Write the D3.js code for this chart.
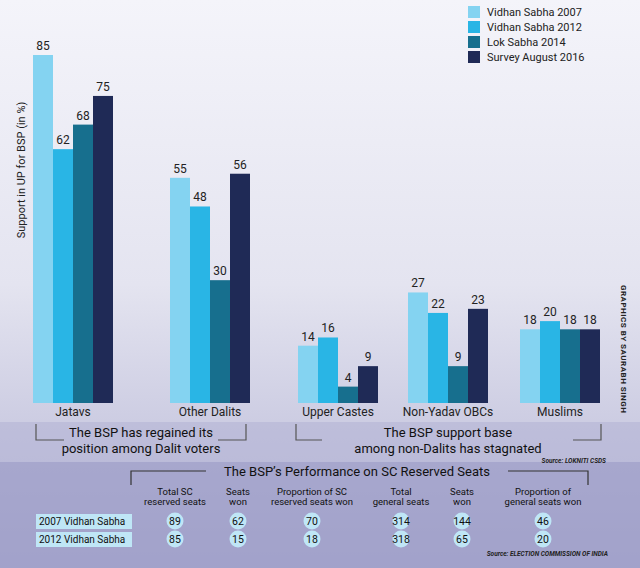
<!DOCTYPE html>
<html>
<head>
<script src="https://d3js.org/d3.v7.min.js"></script>
<style>
  body { margin: 0; }
  text { font-family: "Roboto", "Liberation Sans", sans-serif; }
</style>
</head>
<body>
<div id="chart"></div>
<script>
const categories = ["Jatavs", "Other Dalits", "Upper Castes", "Non-Yadav OBCs", "Muslims"];
const seriesNames = ["Vidhan Sabha 2007", "Vidhan Sabha 2012", "Lok Sabha 2014", "Survey August 2016"];
const values = [
  [85, 62, 68, 75],
  [55, 48, 30, 56],
  [14, 16, 4, 9],
  [27, 22, 9, 23],
  [18, 20, 18, 18]
];
const colors = ["#84d3f1", "#29b5e5", "#176f8e", "#1f2a56"];

const tableCols = [["Total SC", "reserved seats"], ["Seats", "won"], ["Proportion of SC", "reserved seats won"],
                   ["Total", "general seats"], ["Seats", "won"], ["Proportion of", "general seats won"]];
const tableRows = ["2007 Vidhan Sabha", "2012 Vidhan Sabha"];
const tableValues = [[89, 62, 70, 314, 144, 46], [85, 15, 18, 318, 65, 20]];

const W = 640, H = 568;
const svg = d3.select("#chart").append("svg").attr("width", W).attr("height", H);

// background
const defs = svg.append("defs");
const g1 = defs.append("linearGradient").attr("id", "bg").attr("x1", 0).attr("y1", 0).attr("x2", 0).attr("y2", 1);
g1.append("stop").attr("offset", "0").attr("stop-color", "#f4f4fa");
g1.append("stop").attr("offset", "0.5").attr("stop-color", "#e4e4f0");
g1.append("stop").attr("offset", "1").attr("stop-color", "#b4b4d4");
svg.append("rect").attr("width", W).attr("height", H).attr("fill", "url(#bg)");
svg.append("rect").attr("x", 0).attr("y", 422).attr("width", W).attr("height", 40).attr("fill", "#b4b4d6").attr("opacity", 0.6);
svg.append("rect").attr("x", 0).attr("y", 462).attr("width", W).attr("height", 106).attr("fill", "#9a9ac6").attr("opacity", 0.7);

const y = d3.scaleLinear().domain([0, 85]).range([403, 55]);
const x = d3.scaleOrdinal().domain(categories).range([73, 210, 338, 448, 560]);
const xs = d3.scaleBand().domain(d3.range(4)).range([-40, 40]);

const groups = svg.selectAll(".grp").data(categories).join("g")
  .attr("transform", d => `translate(${x(d)},0)`);
groups.selectAll("rect").data((d, i) => values[i]).join("rect")
  .attr("x", (v, j) => xs(j)).attr("width", xs.bandwidth())
  .attr("y", v => y(v)).attr("height", v => y(0) - y(v))
  .attr("fill", (v, j) => colors[j]);
groups.selectAll("text.val").data((d, i) => values[i]).join("text").attr("class", "val")
  .attr("x", (v, j) => xs(j) + xs.bandwidth() / 2).attr("y", v => y(v) - 5)
  .attr("text-anchor", "middle").attr("font-size", 12).attr("fill", "#222").text(v => v);
groups.append("text").attr("y", 416).attr("text-anchor", "middle").attr("font-size", 12)
  .attr("fill", "#222").text(d => d);

svg.append("text").attr("transform", "translate(25,170) rotate(-90)").attr("text-anchor", "middle")
  .attr("font-size", 11).attr("fill", "#222").text("Support in UP for BSP (in %)");

// legend
const lg = svg.append("g").attr("transform", "translate(468,6)");
seriesNames.forEach((s, i) => {
  lg.append("rect").attr("x", 0).attr("y", i * 15).attr("width", 12).attr("height", 12).attr("fill", colors[i]);
  lg.append("text").attr("x", 19).attr("y", i * 15 + 10).attr("font-size", 11).attr("fill", "#222").text(s);
});

svg.append("text").attr("transform", "translate(621,285) rotate(90)").attr("font-size", 8)
  .attr("font-family", "Liberation Serif").attr("font-weight", "bold").attr("letter-spacing", 0.5)
  .attr("fill", "#222").text("GRAPHICS BY SAURABH SINGH");

// brackets
function bracket(x1, x2, ytop, ybot, tx1, tx2) {
  svg.append("path").attr("fill", "none").attr("stroke", "#555").attr("stroke-width", 1.2)
    .attr("d", `M${x1},${ytop}V${ybot}H${tx1}M${tx2},${ybot}H${x2}V${ytop}`);
}
bracket(36, 246, 424, 440, 64, 218);
bracket(296, 601, 424, 440, 322, 573);
const note = [[141, "The BSP has regained its", "position among Dalit voters"],
              [448, "The BSP support base", "among non-Dalits has stagnated"]];
note.forEach(n => {
  svg.append("text").attr("x", n[0]).attr("y", 437).attr("text-anchor", "middle").attr("font-size", 13).attr("fill", "#111").text(n[1]);
  svg.append("text").attr("x", n[0]).attr("y", 453).attr("text-anchor", "middle").attr("font-size", 13).attr("fill", "#111").text(n[2]);
});
svg.append("text").attr("x", 606).attr("y", 463).attr("text-anchor", "end").attr("font-size", 6.5)
  .attr("font-family", "Liberation Serif").attr("font-style", "italic").attr("font-weight", "bold").attr("fill", "#222")
  .text("Source: LOKNITI CSDS");

// table
svg.append("path").attr("fill", "none").attr("stroke", "#333").attr("stroke-width", 1.2)
  .attr("d", "M131,485V471H206M508,471H588V485");
svg.append("text").attr("x", 357).attr("y", 476).attr("text-anchor", "middle").attr("font-size", 13)
  .attr("fill", "#111").text("The BSP’s Performance on SC Reserved Seats");
const colX = d3.scaleOrdinal().domain(d3.range(6)).range([175, 238, 312, 401, 462, 543]);
tableCols.forEach((c, i) => {
  c.forEach((line, k) => svg.append("text").attr("x", colX(i)).attr("y", 495 + k * 10)
    .attr("text-anchor", "middle").attr("font-size", 9.5).attr("fill", "#111").text(line));
});
const rowY = d3.scaleOrdinal().domain(d3.range(2)).range([525, 543]);
tableRows.forEach((r, i) => {
  svg.append("rect").attr("x", 36).attr("y", rowY(i) - 11).attr("width", 96).attr("height", 15).attr("fill", "#bfe6f6");
  svg.append("text").attr("x", 39).attr("y", rowY(i)).attr("font-size", 10).attr("fill", "#111").text(r);
  tableValues[i].forEach((v, j) => {
    svg.append("circle").attr("cx", colX(j)).attr("cy", rowY(i) - 4).attr("r", 8.5).attr("fill", "#bfe6f6");
    svg.append("text").attr("x", colX(j)).attr("y", rowY(i)).attr("text-anchor", "middle")
      .attr("font-size", 10.5).attr("fill", "#111").text(v);
  });
});
svg.append("text").attr("x", 608).attr("y", 556).attr("text-anchor", "end").attr("font-size", 6.5)
  .attr("font-family", "Liberation Serif").attr("font-style", "italic").attr("font-weight", "bold").attr("fill", "#222")
  .text("Source: ELECTION COMMISSION OF INDIA");
</script>
</body>
</html>
